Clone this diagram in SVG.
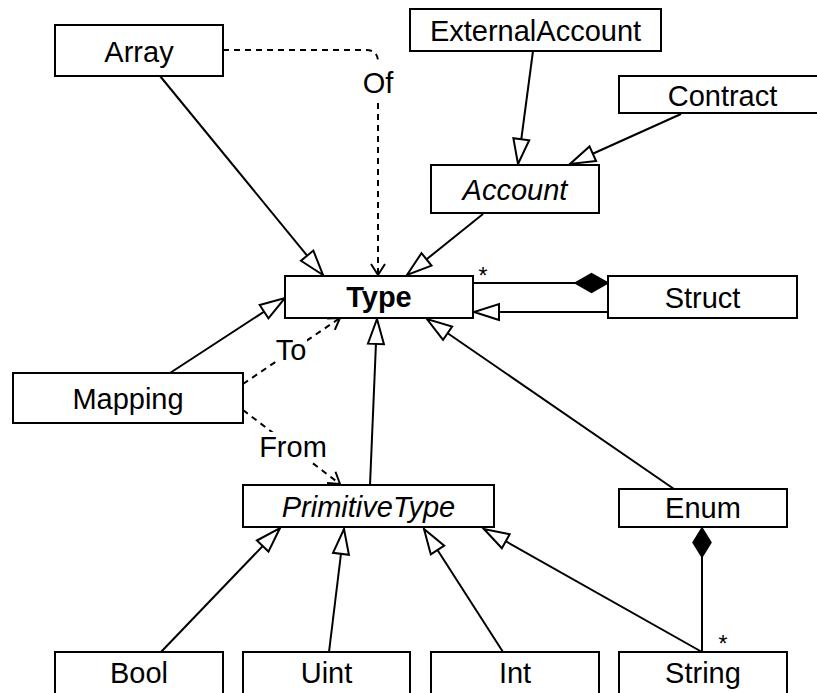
<svg xmlns="http://www.w3.org/2000/svg" width="817" height="693" viewBox="0 0 817 693">
  <style>
    .box { fill: #ffffff; stroke: #000000; stroke-width: 2; }
    .lbl { font-family: "Liberation Sans", Arial, sans-serif; font-size: 29px; fill: #000000; text-anchor: middle; }
    .it { font-style: italic; }
    .bd { font-weight: bold; }
    .star { font-family: "Liberation Sans", Arial, sans-serif; font-size: 23px; fill: #000000; text-anchor: middle; }
    .gen { fill: none; stroke: #000000; stroke-width: 2; marker-end: url(#hollow); }
    .dep { fill: none; stroke: #000000; stroke-width: 2; stroke-dasharray: 6 5; }
    .dep-end { marker-end: url(#open); }
    .comp { fill: none; stroke: #000000; stroke-width: 2; }
    .dia { fill: #000000; stroke: #000000; stroke-width: 1.5; }
    .bg { fill: #ffffff; stroke: none; }
  </style>
  <defs>
    <!-- generalization: hollow triangle -->
    <marker id="hollow" markerUnits="userSpaceOnUse" viewBox="-2 -2 30 20" refX="25" refY="8" markerWidth="30" markerHeight="20" orient="auto" overflow="visible">
      <path d="M0,0 L25,8 L0,16 Z" fill="#ffffff" stroke="#000000" stroke-width="2" stroke-dasharray="none"/>
    </marker>
    <!-- dependency: open V arrow -->
    <marker id="open" markerUnits="userSpaceOnUse" viewBox="-2 -2 16 18" refX="11" refY="7" markerWidth="16" markerHeight="18" orient="auto" overflow="visible">
      <path d="M0,0 L11,7 L0,14" fill="none" stroke="#000000" stroke-width="2" stroke-dasharray="none"/>
    </marker>
  </defs>
  <rect width="817" height="693" fill="#ffffff"/>

  <g id="connectors">
    <!-- Array: Of (dependency) -->
    <path class="dep" d="M223,50 L366,50 Q378,50 378,62"/>
    <path class="dep dep-end" d="M378,103 L378,275"/>
    <!-- generalizations -->
    <path class="gen" d="M160,76 L323,275"/>
    <path class="gen" d="M533,51 L518,164"/>
    <path class="gen" d="M681,114 L570,164"/>
    <path class="gen" d="M483,214 L407,275"/>
    <path class="gen" d="M608,312 L474,312"/>
    <path class="gen" d="M170,373 L285,298"/>
    <path class="gen" d="M370,485 L377,319"/>
    <path class="gen" d="M674,489 L427,319"/>
    <path class="gen" d="M161,652 L280,528"/>
    <path class="gen" d="M329,652 L344,529"/>
    <path class="gen" d="M503,652 L424,529"/>
    <path class="gen" d="M702,652 L484,529"/>
    <!-- Mapping: To / From (dependencies) -->
    <path class="dep dep-end" d="M243,384 L340,318"/>
    <path class="dep dep-end" d="M243,410 L340,484"/>
    <!-- compositions -->
    <path class="comp" d="M575,283 L473,283"/>
    <polygon class="dia" points="608,283 591.5,273.5 575,283 591.5,292.5"/>
    <path class="comp" d="M702,557 L702,652"/>
    <polygon class="dia" points="702,528 711,542.5 702,557 693,542.5"/>
    <!-- labels -->
    <text class="lbl" x="378" y="93">Of</text>
    <rect class="bg" x="276" y="335" width="31" height="30"/>
    <text class="lbl" x="291" y="360">To</text>
    <rect class="bg" x="258" y="432" width="70" height="30"/>
    <text class="lbl" x="293" y="457">From</text>
    <text class="star" x="483" y="284">*</text>
    <text class="star" x="723" y="652">*</text>
  </g>

  <g id="Array">
    <rect class="box" x="55" y="25" width="168" height="51"/>
    <text class="lbl" x="139" y="62">Array</text>
  </g>
  <g id="ExternalAccount">
    <rect class="box" x="410" y="9" width="251" height="42"/>
    <text class="lbl" x="535.5" y="41">ExternalAccount</text>
  </g>
  <g id="Contract">
    <rect class="box" x="619" y="76" width="207" height="37"/>
    <text class="lbl" x="722.5" y="106">Contract</text>
  </g>
  <g id="Account">
    <rect class="box" x="431" y="165" width="168" height="48"/>
    <text class="lbl it" x="515" y="200">Account</text>
  </g>
  <g id="Type">
    <rect class="box" x="285" y="276" width="188" height="42"/>
    <text class="lbl bd" x="379" y="307">Type</text>
  </g>
  <g id="Struct">
    <rect class="box" x="608" y="276" width="189" height="42"/>
    <text class="lbl" x="702.5" y="308">Struct</text>
  </g>
  <g id="Mapping">
    <rect class="box" x="13" y="373" width="230" height="50"/>
    <text class="lbl" x="128" y="409">Mapping</text>
  </g>
  <g id="PrimitiveType">
    <rect class="box" x="243" y="485" width="251" height="42"/>
    <text class="lbl it" x="368.5" y="517">PrimitiveType</text>
  </g>
  <g id="Enum">
    <rect class="box" x="619" y="489" width="168" height="38"/>
    <text class="lbl" x="703" y="518">Enum</text>
  </g>
  <g id="Bool">
    <rect class="box" x="55" y="652" width="168" height="50"/>
    <text class="lbl" x="139" y="683">Bool</text>
  </g>
  <g id="Uint">
    <rect class="box" x="243" y="652" width="167" height="50"/>
    <text class="lbl" x="326.5" y="683">Uint</text>
  </g>
  <g id="Int">
    <rect class="box" x="431" y="652" width="168" height="50"/>
    <text class="lbl" x="515" y="683">Int</text>
  </g>
  <g id="String">
    <rect class="box" x="619" y="652" width="168" height="50"/>
    <text class="lbl" x="703" y="683">String</text>
  </g>
</svg>
